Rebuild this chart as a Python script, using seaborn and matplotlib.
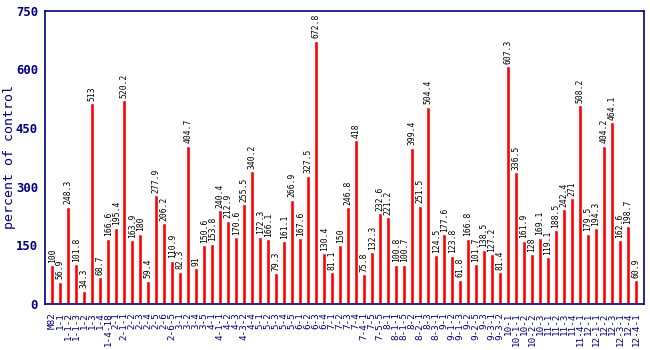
import matplotlib
matplotlib.use("Agg")
import matplotlib.pyplot as plt
import seaborn as sns
import pandas as pd

# Introgression lines and their response, as percent of the M82 control
lines = [
    "M82", "1-1", "1-1-2", "1-1-3", "1-2", "1-3", "1-4", "1-4-18",
    "2-1", "2-1-1", "2-2", "2-3", "2-4", "2-5", "2-6", "2-6-5",
    "3-1", "3-2", "3-4", "3-5",
    "4-1", "4-1-1", "4-2", "4-3", "4-3-2", "4-4",
    "5-1", "5-2", "5-3", "5-4", "5-5",
    "6-1", "6-2", "6-3", "6-4",
    "7-1", "7-2", "7-3", "7-4", "7-4-1", "7-5", "7-5-5",
    "8-1", "8-1-1", "8-1-5", "8-2", "8-2-1", "8-3", "8-3-1",
    "9-1", "9-1-2", "9-1-3", "9-2", "9-2-5", "9-3", "9-3-1", "9-3-2",
    "10-1", "10-1-1", "10-2", "10-2-2", "10-3",
    "11-1", "11-2", "11-3", "11-4", "11-4-1",
    "12-1", "12-1-1", "12-2", "12-3", "12-3-1", "12-4", "12-4-1",
]
percent = [
    100, 56.9, 248.3, 101.8, 34.3, 513, 68.7, 166.6, 195.4, 520.2,
    163.9, 180, 59.4, 277.9, 206.2, 110.9, 82.3, 404.7, 91, 150.6,
    153.8, 240.4, 212.9, 170.6, 255.5, 340.2, 172.3, 166.1, 79.3, 161.1,
    266.9, 167.6, 327.5, 672.8, 130.4, 81.1, 150, 246.8, 418, 75.8,
    132.3, 232.6, 221.2, 100.8, 100.7, 399.4, 251.5, 504.4, 124.5, 177.6,
    123.8, 61.8, 166.8, 101.7, 138.5, 127.2, 81.4, 607.3, 336.5, 161.9,
    128, 169.1, 119.1, 188.5, 242.4, 271, 508.2, 179.5, 194.3, 404.2,
    464.1, 162.6, 198.7, 60.9,
]
y_ticks = [0, 150, 300, 450, 600, 750]

df = pd.DataFrame({"line": lines, "percent": percent})

navy = "#000080"
mono = "DejaVu Sans Mono"

sns.set_style("white")
plt.rcParams["font.family"] = [mono]

fig = plt.figure(figsize=(6.5, 3.5), dpi=100)
ax = fig.add_axes([45 / 650, 46 / 350, 599 / 650, 293.5 / 350])

sns.barplot(data=df, x="line", y="percent", color="#ff0000", width=0.5,
            saturation=1, ax=ax, order=lines)

# value annotations above each bar
for i, v in enumerate(percent):
    ax.text(i, v + 6, f"{v:g}", rotation=90, ha="center", va="bottom",
            fontsize=5.8, family=mono, color="#000000")

ax.set_xlim(-0.9, len(lines) - 0.0)
ax.set_ylim(0, 750)
ax.set_yticks(y_ticks)
ax.set_yticklabels([str(t) for t in y_ticks], fontsize=8.8, fontweight="bold",
                   color=navy, family=mono)
ax.tick_params(axis="y", length=4, width=1, color=navy, pad=1, direction="out")
ax.tick_params(axis="x", length=0, pad=6)
ax.set_xticks(range(len(lines)))
ax.set_xticklabels(lines, rotation=90, fontsize=6.7, color=navy, family=mono)

ax.set_xlabel("")
ax.set_ylabel("percent of control", fontsize=9.5, color=navy, family=mono)
ax.yaxis.set_label_coords(-0.049, 0.5)

for sp in ax.spines.values():
    sp.set_visible(True)
    sp.set_color(navy)
    sp.set_linewidth(1.2)

fig.savefig("out.png", dpi=100)
